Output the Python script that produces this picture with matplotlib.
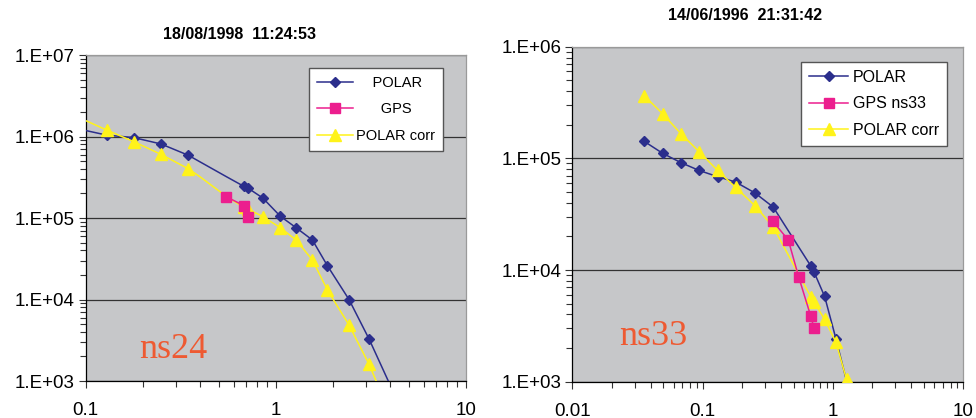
import numpy as np
import matplotlib.pyplot as plt
from matplotlib.ticker import LogLocator, NullFormatter, FixedFormatter, FixedLocator

# ---- datos panel izquierdo (ns24) ----
x_polar_1 = [0.09, 0.129, 0.179, 0.249, 0.346, 0.552, 0.679, 0.718, 0.855, 1.058, 1.28, 1.56, 1.87, 2.43, 3.10, 4.5]
y_polar_1 = [1.25e6, 1.04e6, 9.7e5, 8.1e5, 5.9e5, 3.2e5, 2.45e5, 2.31e5, 1.76e5, 1.05e5, 7.6e4, 5.37e4, 2.6e4, 1.0e4, 3.27e3, 4.9e2]
mark_polar_1 = [1, 2, 3, 4, 6, 7, 8, 9, 10, 11, 12, 13, 14]

x_gps_1 = [0.548, 0.679, 0.718]
y_gps_1 = [1.83e5, 1.42e5, 1.04e5]

x_corr_1 = [0.09, 0.129, 0.179, 0.249, 0.346, 0.40, 0.548, 0.679, 0.718, 0.855, 1.058, 1.28, 1.56, 1.87, 2.43, 3.10, 3.92]
y_corr_1 = [1.75e6, 1.2e6, 8.65e5, 6.04e5, 4.03e5, 3.2e5, 1.85e5, 1.35e5, 1.28e5, 1.04e5, 7.6e4, 5.37e4, 3.05e4, 1.31e4, 4.87e3, 1.6e3, 4.4e2]
mark_corr_1 = [1, 2, 3, 4, 7, 8, 9, 10, 11, 12, 13, 14, 15]

# ---- datos panel derecho (ns33) ----
x_polar_2 = [0.0356, 0.0493, 0.0682, 0.0938, 0.130, 0.179, 0.252, 0.348, 0.675, 0.714, 0.863, 1.055, 1.40]
y_polar_2 = [1.42e5, 1.11e5, 9.15e4, 7.8e4, 6.86e4, 6.14e4, 4.9e4, 3.66e4, 1.09e4, 9.66e3, 5.8e3, 2.41e3, 6.5e2]
mark_polar_2 = list(range(12))

x_gps_2 = [0.344, 0.454, 0.545, 0.675, 0.714]
y_gps_2 = [2.75e4, 1.86e4, 8.7e3, 3.87e3, 3.05e3]

x_corr_2 = [0.0356, 0.0493, 0.0682, 0.0938, 0.130, 0.179, 0.252, 0.348, 0.675, 0.714, 0.863, 1.055, 1.27]
y_corr_2 = [3.64e5, 2.51e5, 1.66e5, 1.15e5, 7.8e4, 5.5e4, 3.77e4, 2.43e4, 5.77e3, 5.2e3, 3.61e3, 2.25e3, 1.05e3]
mark_corr_2 = list(range(13))

AZUL = "#2B2E8C"
ROSA = "#EC1E8E"
AMARILLO = "#FFF31A"
FONDO = "#C6C7C9"
NARANJA = "#EE5A32"

plt.rcParams['font.family'] = ['Liberation Sans', 'DejaVu Sans']

fig = plt.figure(figsize=(9.76, 4.18), dpi=100)
ax1 = fig.add_axes([0.0878, 0.0885, 0.3894, 0.7799])
ax2 = fig.add_axes([0.5864, 0.0868, 0.4006, 0.8015])


def decorar(ax, xmin, xmax, ymin, ymax):
    ax.set_xscale('log')
    ax.set_yscale('log')
    ax.set_xlim(xmin, xmax)
    ax.set_ylim(ymin, ymax)
    ax.set_facecolor(FONDO)
    ax.yaxis.grid(True, which='major', color='#333333', lw=0.9)
    ax.set_axisbelow(True)
    for s in ['top', 'right']:
        ax.spines[s].set_color('#9A9A9A')
        ax.spines[s].set_linewidth(0.9)
    for s in ['left', 'bottom']:
        ax.spines[s].set_color('black')
        ax.spines[s].set_linewidth(0.9)
    ax.tick_params(which='both', direction='out', color='#333333', width=0.8)
    ax.tick_params(which='major', length=5, labelsize=13.5)
    ax.tick_params(axis='x', which='major', pad=10)
    ax.tick_params(axis='y', which='major', pad=3)
    ax.tick_params(which='minor', length=4)
    ax.xaxis.set_minor_locator(LogLocator(base=10, subs=np.arange(2, 10), numticks=20))
    ax.yaxis.set_minor_locator(LogLocator(base=10, subs=np.arange(2, 10), numticks=20))
    ax.xaxis.set_minor_formatter(NullFormatter())
    ax.yaxis.set_minor_formatter(NullFormatter())


def etiquetas(ax, xt, xl, yt, yl):
    ax.xaxis.set_major_locator(FixedLocator(xt))
    ax.xaxis.set_major_formatter(FixedFormatter(xl))
    ax.yaxis.set_major_locator(FixedLocator(yt))
    ax.yaxis.set_major_formatter(FixedFormatter(yl))


def series(ax, xp, yp, mp, xg, yg, xc, yc, mc, labels):
    ax.plot(xp, yp, color=AZUL, lw=1.1, marker='D', markersize=5.5, markevery=mp,
            label=labels[0], zorder=3)
    ax.plot(xc, yc, color=AMARILLO, lw=1.1, marker='^', markersize=8, markevery=mc,
            label=labels[2], zorder=4)
    ax.plot(xg, yg, color=ROSA, lw=1.1, marker='s', markersize=7, label=labels[1], zorder=5)
    h, l = ax.get_legend_handles_labels()
    orden = [0, 2, 1]
    return [h[i] for i in orden], [l[i] for i in orden]


# panel izquierdo
decorar(ax1, 0.1, 10, 1e3, 1e7)
etiquetas(ax1, [0.1, 1, 10], ['0.1', '1', '10'],
          [1e3, 1e4, 1e5, 1e6, 1e7], ['1.E+03', '1.E+04', '1.E+05', '1.E+06', '1.E+07'])
h, l = series(ax1, x_polar_1, y_polar_1, mark_polar_1, x_gps_1, y_gps_1,
              x_corr_1, y_corr_1, mark_corr_1, ['POLAR', 'GPS', 'POLAR corr'])
leg1 = ax1.legend(h, ['    POLAR', '      GPS', 'POLAR corr'], loc='upper right',
                  bbox_to_anchor=(0.940, 0.960), borderaxespad=0, fontsize=10.5,
                  frameon=True, fancybox=False, edgecolor='#555555', framealpha=1,
                  handlelength=2.5, borderpad=0.55, labelspacing=0.85, handletextpad=0.2)
leg1.get_frame().set_linewidth(1.0)
ax1.text(0.141, 0.07, 'ns24', transform=ax1.transAxes, family=['Liberation Serif', 'DejaVu Serif'],
         fontsize=26, color=NARANJA)
fig.text(0.245, 0.918, '18/08/1998  11:24:53', ha='center', va='center',
         fontsize=11.5, fontweight='bold')

# panel derecho
decorar(ax2, 0.01, 10, 1e3, 1e6)
etiquetas(ax2, [0.01, 0.1, 1, 10], ['0.01', '0.1', '1', '10'],
          [1e3, 1e4, 1e5, 1e6], ['1.E+03', '1.E+04', '1.E+05', '1.E+06'])
h, l = series(ax2, x_polar_2, y_polar_2, mark_polar_2, x_gps_2, y_gps_2,
              x_corr_2, y_corr_2, mark_corr_2, ['POLAR', 'GPS ns33', 'POLAR corr'])
leg2 = ax2.legend(h, l, loc='upper right',
                  bbox_to_anchor=(0.9575, 0.955), borderaxespad=0, fontsize=11.5,
                  frameon=True, fancybox=False, edgecolor='#555555', framealpha=1,
                  handlelength=2.4, borderpad=0.5, labelspacing=0.72, handletextpad=0.3)
leg2.get_frame().set_linewidth(1.0)
ax2.text(0.12, 0.11, 'ns33', transform=ax2.transAxes, family=['Liberation Serif', 'DejaVu Serif'],
         fontsize=26, color=NARANJA)
fig.text(0.763, 0.964, '14/06/1996  21:31:42', ha='center', va='center',
         fontsize=11.5, fontweight='bold')

fig.savefig('out.png', dpi=100)
